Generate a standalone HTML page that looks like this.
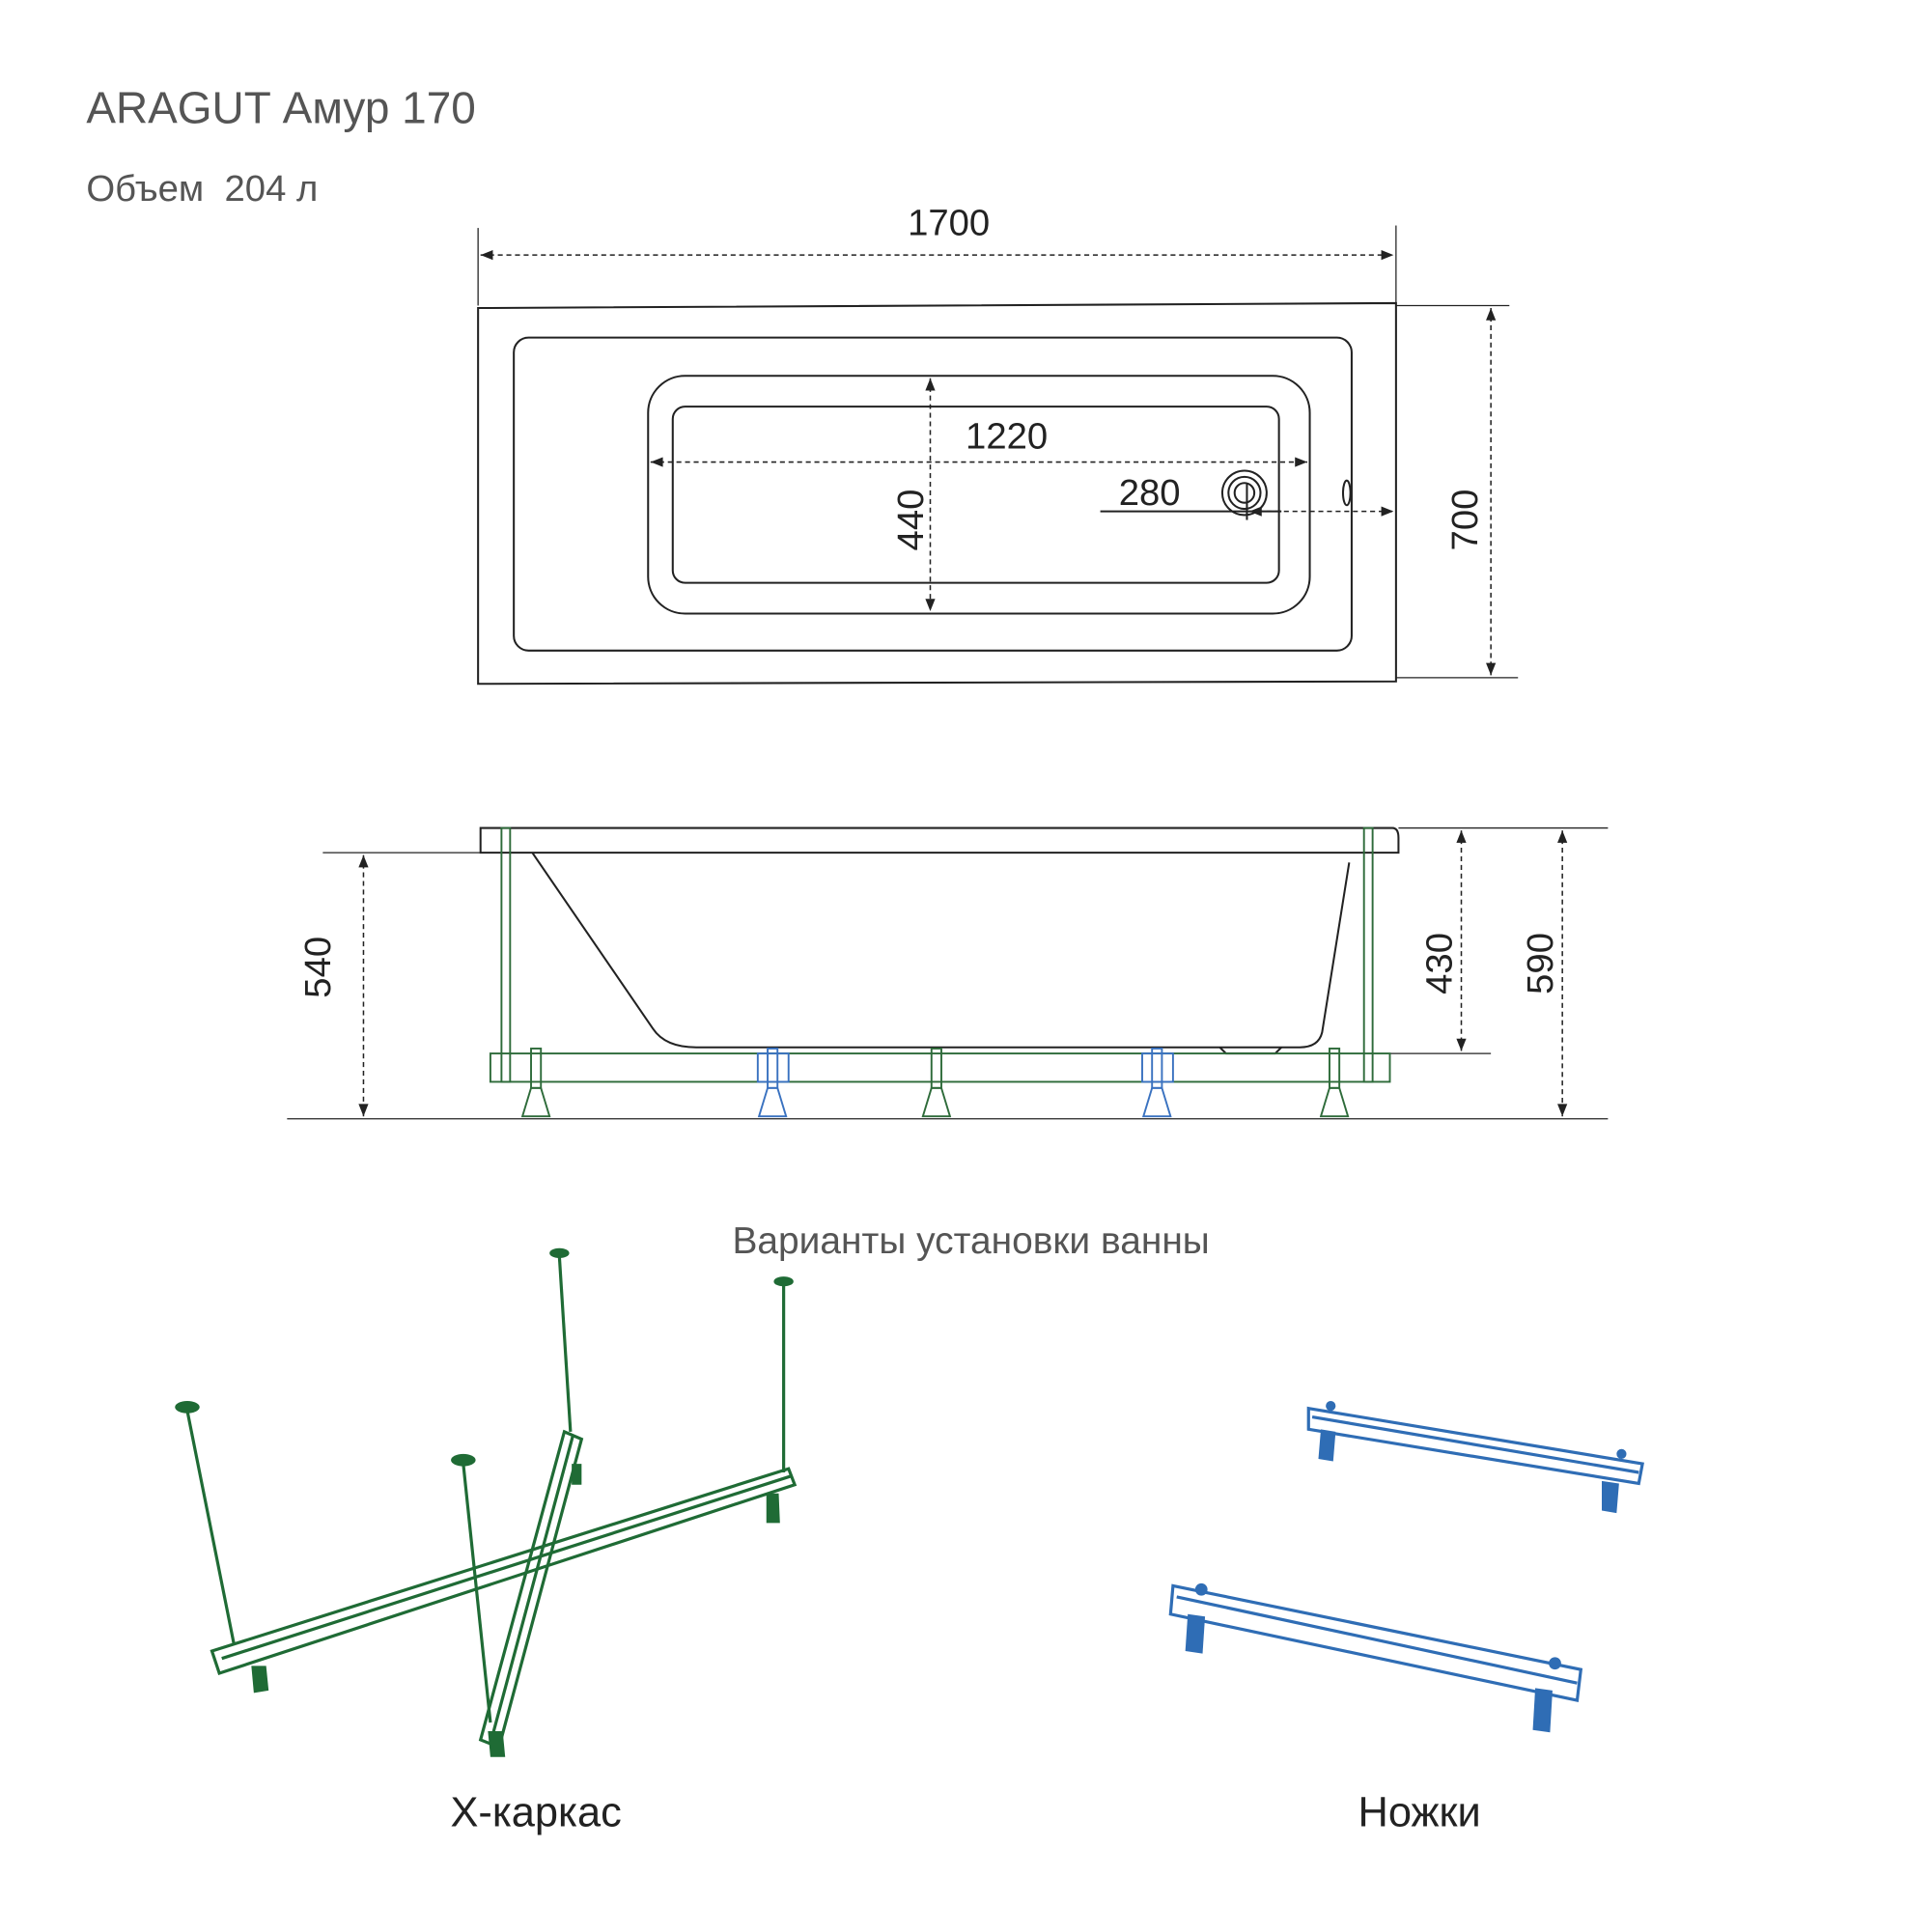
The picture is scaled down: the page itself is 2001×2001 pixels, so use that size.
<!DOCTYPE html>
<html><head><meta charset="utf-8"><style>html,body{margin:0;padding:0;background:#fff}svg{display:block}</style></head>
<body>
<svg width="2001" height="2001" viewBox="0 0 1568 1568" xmlns="http://www.w3.org/2000/svg" font-family="Liberation Sans, sans-serif">
<defs>
<marker id="a" viewBox="0 0 10 10" refX="10" refY="5" markerWidth="14" markerHeight="10" markerUnits="userSpaceOnUse" orient="auto-start-reverse"><path d="M0,1 L10,5 L0,9 Z" fill="#222"/></marker>
</defs>
<text x="70" y="100" font-size="36" fill="#555">ARAGUT Амур 170</text>
<text x="70" y="163" font-size="30" fill="#555">Объем&#160; 204 л</text>

<g fill="none" stroke="#222" stroke-width="1.6">
<path d="M388,250 L1133,246 L1133,553 L388,555 Z"/>
<rect x="417" y="274" width="680" height="254" rx="12"/>
<rect x="526" y="305" width="537" height="193" rx="30"/>
<rect x="546" y="330" width="492" height="143" rx="10"/>
<circle cx="1010" cy="400" r="18"/><circle cx="1010" cy="400" r="13"/><circle cx="1010" cy="400" r="8"/>
<ellipse cx="1093" cy="400" rx="3" ry="10"/>
<line x1="893" y1="415" x2="1040" y2="415"/>
<line x1="1012" y1="392" x2="1012" y2="422"/>
</g>
<g stroke="#222" stroke-width="1" fill="none">
<line x1="388" y1="185" x2="388" y2="248"/><line x1="1133" y1="183" x2="1133" y2="246"/>
<line x1="1133" y1="248" x2="1225" y2="248"/><line x1="1133" y1="550" x2="1232" y2="550"/>
</g>
<g stroke="#222" stroke-width="1.2" stroke-dasharray="4,3" fill="none" marker-start="url(#a)" marker-end="url(#a)">
<line x1="390" y1="207" x2="1131" y2="207"/>
<line x1="1210" y1="250" x2="1210" y2="548"/>
<line x1="528" y1="375" x2="1061" y2="375"/>
<line x1="755" y1="307" x2="755" y2="496"/>
</g>
<line x1="1014" y1="415" x2="1131" y2="415" stroke="#222" stroke-width="1.2" stroke-dasharray="4,3" marker-end="url(#a)" marker-start="url(#a)"/>
<g font-size="30" fill="#222" text-anchor="middle">
<text x="770" y="191">1700</text>
<text x="817" y="364">1220</text>
<text x="933" y="410">280</text>
<text transform="translate(749,422) rotate(-90)">440</text>
<text transform="translate(1199,422) rotate(-90)">700</text>
<text transform="translate(268,785) rotate(-90)">540</text>
<text transform="translate(1178,782) rotate(-90)">430</text>
<text transform="translate(1260,782) rotate(-90)">590</text>
</g>

<g fill="none" stroke="#222" stroke-width="1.6">
<path d="M390,672 L1130,672 Q1135,672 1135,680 L1135,692 L390,692 Z"/>
<path d="M432,692 L530,835 Q540,850 565,850 L1055,850 Q1070,850 1073,838 L1095,700"/>
<path d="M990,850 L995,855 L1035,855 L1040,850"/>
</g>
<g stroke="#222" stroke-width="1" fill="none">
<line x1="262" y1="692" x2="390" y2="692"/>
<line x1="233" y1="908" x2="1305" y2="908"/>
<line x1="1135" y1="672" x2="1305" y2="672"/>
<line x1="1090" y1="855" x2="1210" y2="855"/>
</g>
<g stroke="#222" stroke-width="1.2" stroke-dasharray="4,3" fill="none" marker-start="url(#a)" marker-end="url(#a)">
<line x1="295" y1="694" x2="295" y2="906"/>
<line x1="1186" y1="674" x2="1186" y2="853"/>
<line x1="1268" y1="674" x2="1268" y2="906"/>
</g>
<g stroke="#2e6b3a" stroke-width="1.5" fill="none">
<rect x="398" y="855" width="730" height="23"/>
<rect x="407" y="672" width="7" height="206"/>
<rect x="1107" y="672" width="7" height="206"/>
<g id="leg"><rect x="431" y="851" width="8" height="32"/><path d="M431,883 L439,883 L446,906 L424,906 Z"/></g>
<use href="#leg" x="325"/><use href="#leg" x="648"/>
</g>
<g stroke="#3a72c0" stroke-width="1.5" fill="none">
<rect x="615" y="855" width="25" height="23"/><rect x="623" y="851" width="8" height="32"/><path d="M623,883 L631,883 L638,906 L616,906 Z"/>
<rect x="927" y="855" width="25" height="23"/><rect x="935" y="851" width="8" height="32"/><path d="M935,883 L943,883 L950,906 L928,906 Z"/>
</g>

<text x="788" y="1017" font-size="30.5" fill="#555" text-anchor="middle">Варианты установки ванны</text>

<g stroke="#1f6b35" stroke-width="2.5" fill="none">
<path d="M172,1340 L640,1192 L645,1205 L178,1358 Z"/>
<path d="M180,1346 L642,1198"/>
<path d="M458,1162 L472,1168 L405,1418 L390,1412 Z"/>
<path d="M465,1165 L398,1415"/>
<line x1="152" y1="1145" x2="190" y2="1335"/>
<line x1="454" y1="1020" x2="463" y2="1162"/>
<line x1="636" y1="1042" x2="636" y2="1195"/>
<line x1="376" y1="1188" x2="398" y2="1398"/>
</g>
<g fill="#1f6b35">
<ellipse cx="152" cy="1142" rx="10" ry="5"/><ellipse cx="454" cy="1017" rx="8" ry="4"/>
<ellipse cx="636" cy="1040" rx="8" ry="4"/><ellipse cx="376" cy="1185" rx="10" ry="5"/>
<path d="M204,1352 L216,1352 L218,1372 L206,1374 Z"/>
<path d="M622,1212 L632,1212 L633,1236 L622,1236 Z"/>
<path d="M396,1405 L408,1405 L410,1426 L398,1426 Z"/>
<path d="M464,1188 L472,1188 L472,1205 L464,1205 Z"/>
</g>
<g stroke="#2f6db5" stroke-width="2.5" fill="none">
<path d="M1062,1143 L1333,1188 L1330,1204 L1062,1160 Z"/>
<path d="M1065,1150 L1330,1195"/>
<path d="M952,1287 L1283,1355 L1280,1380 L950,1310 Z"/>
<path d="M955,1296 L1280,1366"/>
</g>
<g fill="#2f6db5">
<path d="M1072,1160 L1084,1162 L1082,1186 L1070,1184 Z"/>
<path d="M1300,1202 L1314,1204 L1312,1228 L1300,1226 Z"/>
<path d="M964,1310 L978,1312 L976,1342 L962,1340 Z"/>
<path d="M1246,1370 L1260,1372 L1258,1406 L1244,1404 Z"/>
<circle cx="1080" cy="1141" r="4"/><circle cx="1316" cy="1180" r="4"/>
<circle cx="975" cy="1290" r="5"/><circle cx="1262" cy="1350" r="5"/>
</g>

<text x="435" y="1482" font-size="34" fill="#222" text-anchor="middle">X-каркас</text>
<text x="1152" y="1482" font-size="34" fill="#222" text-anchor="middle">Ножки</text>
</svg>
</body></html>
